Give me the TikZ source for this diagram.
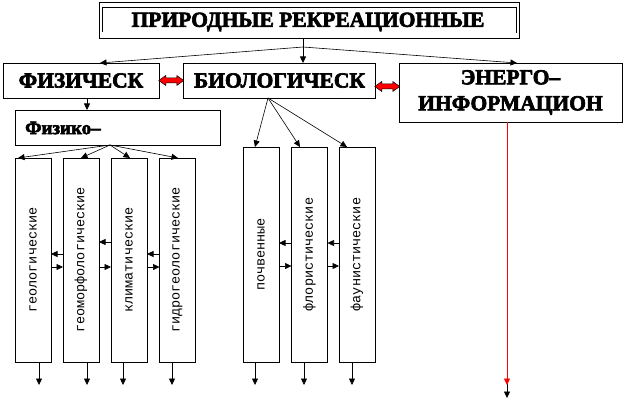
\documentclass[tikz,border=0pt]{standalone}
\usepackage{fontspec}
\setmainfont{Liberation Serif}
\newfontfamily\heavy{Liberation Serif}[UprightFont={* Bold},UprightFeatures={FakeBold=3}]
\newfontfamily\monof{Liberation Mono}
\usetikzlibrary{arrows.meta,calc}
\begin{document}
\begin{tikzpicture}[x=1pt,y=-1pt,
  box/.style={draw,line width=0.8pt,rectangle,inner sep=0pt,outer sep=0pt},
  ttl/.style={font=\heavy\fontsize{21.5}{26}\selectfont},
  vlab/.style={rotate=90,font=\monof\fontsize{13.5}{15}\selectfont,inner sep=0pt},
  arr/.style={line width=0.6pt,-{Triangle[length=6.5pt,width=6pt]}},
  redarr/.style={line width=0.6pt,red,-{Triangle[length=6.5pt,width=6pt]}},
  dblred/.pic={\draw[fill=red,line width=0.5pt] (-12.5,0) -- (-5.5,5) -- (-5.5,2.5) -- (5.5,2.5) -- (5.5,5) -- (12.5,0) -- (5.5,-5) -- (5.5,-2.5) -- (-5.5,-2.5) -- (-5.5,-5) -- cycle;}
]
\useasboundingbox (0,0) rectangle (639,401);
% top box (double frame)
\node[box,minimum width=420pt,minimum height=36pt] (top) at (309,20) {};
\draw[line width=0.8pt] (102,32) -- (102,7) -- (516,7) -- (516,33);
\node[ttl] (toptxt) at (308,22) {ПРИРОДНЫЕ РЕКРЕАЦИОННЫЕ};
% second row
\node[box,ttl,minimum width=156pt,minimum height=35pt] (fiz) at (81,80.5) {ФИЗИЧЕСК};
\node[box,ttl,minimum width=192pt,minimum height=35pt] (bio) at (279.5,80.5) {БИОЛОГИЧЕСК};
\node[box,ttl,minimum width=223pt,minimum height=59pt,align=center] (ener) at (510.5,92.5) {ЭНЕРГО–\\ИНФОРМАЦИОН};
% branches from top
\coordinate (brr) at ([xshift=-6pt,yshift=-9pt]top.south);
\draw[arr] ([xshift=-6pt]top.south) -- ([xshift=-6pt]top.south |- bio.north);
\draw[arr] (brr) -- ([xshift=19pt]fiz.north);
\draw[arr] (brr) -- ([xshift=6.5pt]ener.north);
% red double arrows
\pic at ($(fiz.east)!0.5!(bio.west)$) {dblred};
\pic at ($(bio.east)!0.5!(ener.west)$) {dblred};
% Физико box
\node[box,minimum width=205pt,minimum height=35pt] (fizk) at (117.5,127.5) {};
\node[font=\heavy\fontsize{19}{22}\selectfont,anchor=west,inner sep=0pt] (fizktxt) at (25,128) {Физико–};
\draw[arr] ([xshift=6pt]fiz.south) -- ([xshift=6pt]fiz.south |- fizk.north);
% physical sub-boxes
\foreach \n/\cx/\t in {g1/33/геологические,g2/81/геоморфологические,g3/129/климатические,g4/177.5/гидрогеологические}{
  \node[box,minimum width=36pt,minimum height=204pt] (\n) at (\cx,260) {};
  \node[vlab] (\n t) at (\n.center) {\t};
}
\coordinate (fo) at ([xshift=-7.5pt]fizk.south);
\draw[arr] (fo) -- ([xshift=3pt]g1.north west);
\draw[arr] (fo) -- (g2.north);
\draw[arr] (fo) -- ([xshift=1pt]g3.north);
\draw[arr] (fo) -- ([xshift=0.5pt]g4.north);
% horizontal arrows between physical boxes
\draw[arr] (g2.west |- 0,254) -- (g1.east |- 0,254);
\draw[arr] (g1.east |- 0,267) -- (g2.west |- 0,267);
\draw[arr] (g3.west |- 0,242) -- (g2.east |- 0,242);
\draw[arr] (g2.east |- 0,267) -- (g3.west |- 0,267);
\draw[arr] (g4.west |- 0,254) -- (g3.east |- 0,254);
\draw[arr] (g3.east |- 0,267) -- (g4.west |- 0,267);
% outgoing arrows
\foreach \n/\dx [count=\i] in {g1/6,g2/6,g3/-6,g4/-5.5}{
  \coordinate (ge\i) at ([xshift=\dx pt, yshift=-23pt]\n.south);
  \draw[arr] ([xshift=\dx pt]\n.south) -- (ge\i);
}
% biological sub-boxes
\foreach \n/\cx/\t in {b1/261/почвенные,b2/309.5/флористические,b3/357/фаунистические}{
  \node[box,minimum width=36pt,minimum height=215pt] (\n) at (\cx,254.5) {};
  \node[vlab] (\n t) at (\n.center) {\t};
}
\coordinate (bo) at ([xshift=-11.5pt]bio.south);
\draw[arr] (bo) -- ([xshift=-6pt]b1.north);
\draw[arr] (bo) -- ([xshift=-9.5pt]b2.north);
\draw[arr] (bo) -- ([xshift=-10pt]b3.north);
\draw[arr] (b2.west |- 0,243) -- (b1.east |- 0,243);
\draw[arr] (b1.east |- 0,266) -- (b2.west |- 0,266);
\draw[arr] (b3.west |- 0,243) -- (b2.east |- 0,243);
\draw[arr] (b2.east |- 0,266) -- (b3.west |- 0,266);
\foreach \n/\dx [count=\i] in {b1/-6,b2/-5.5,b3/-5}{
  \coordinate (be\i) at ([xshift=\dx pt, yshift=-23pt]\n.south);
  \draw[arr] ([xshift=\dx pt]\n.south) -- (be\i);
}
% energo-information arrows
\coordinate (es) at ([xshift=-3.5pt]ener.south);
\coordinate (ek1) at (es |- 0,362);
\coordinate (ek2) at (es |- 0,398);
\coordinate (er) at (es |- 0,385);
\draw[arr] (ek1) -- (ek2);
\draw[redarr] (es) -- (er);
\end{tikzpicture}
\end{document}
